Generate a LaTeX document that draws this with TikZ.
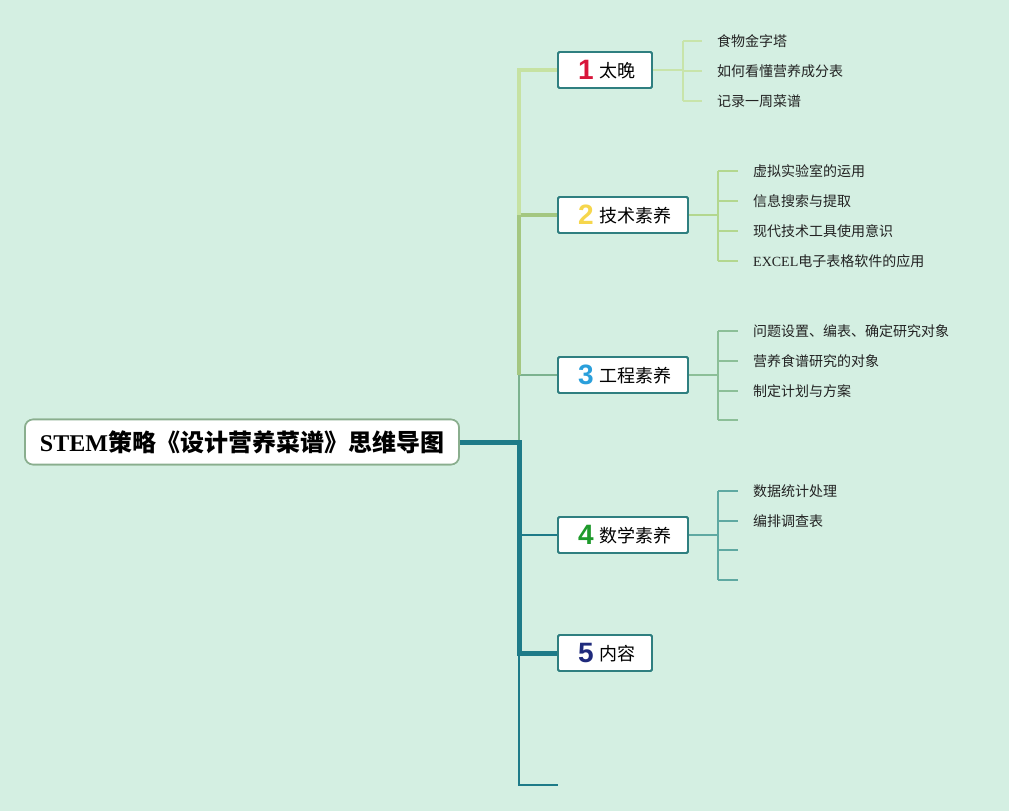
\documentclass[tikz,border=0pt]{standalone}
\usepackage{fontspec}
\setmainfont{Liberation Serif}
\newfontfamily\cjk{Noto Sans CJK SC}
\newfontfamily\digitfont{Liberation Sans}
\definecolor{bg}{HTML}{D4EFE2}
\definecolor{lg}{HTML}{C6E2A2}
\definecolor{mg}{HTML}{A4C781}
\definecolor{gg}{HTML}{7CB28F}
\definecolor{tl}{HTML}{1E7B88}
\definecolor{boxline}{HTML}{2F7F80}
\definecolor{rootline}{HTML}{8AAE8E}
\definecolor{leaf1}{HTML}{C8E4AA}
\definecolor{leaf2}{HTML}{B3D78F}
\definecolor{leaf3}{HTML}{8CBF98}
\definecolor{leaf4}{HTML}{5FA9A2}
\definecolor{n1}{HTML}{D8153A}
\definecolor{n2}{HTML}{F6D64C}
\definecolor{n3}{HTML}{2A9FDB}
\definecolor{n4}{HTML}{1E9A2B}
\definecolor{n5}{HTML}{1F2A7C}
\definecolor{txt}{HTML}{222222}
\newcommand{\numtag}[2]{\raisebox{-2.5pt}{\color{#1}\digitfont\bfseries\fontsize{28}{28}\selectfont #2}}
\begin{document}
\begin{tikzpicture}[x=1pt,y=-1pt,
  rootbox/.style={draw=rootline,line width=1.6pt,fill=white,rounded corners=8pt,minimum width=434pt,minimum height=45pt,inner sep=0pt},
  topic/.style={draw=boxline,line width=1.8pt,fill=white,rounded corners=1.5pt,minimum height=36pt,inner sep=0pt,font=\cjk\fontsize{18}{18}\selectfont},
  leaf/.style={anchor=west,inner sep=0pt,text=txt,font=\cjk\fontsize{14}{14}\selectfont}]
\useasboundingbox (0,0) rectangle (1009,811);
\fill[bg] (0,0) rectangle (1009,811);

% nodes
\node[rootbox] (root) at (242,442) {{\bfseries\fontsize{24}{24}\selectfont STEM}{\cjk\bfseries\fontsize{24}{24}\selectfont 策略《设计营养菜谱》思维导图}};
\node[topic,minimum width=94pt] (b1) at (605,70) {\hspace{4pt}\numtag{n1}{1}\hspace{6pt}太晚};
\node[topic,minimum width=130pt] (b2) at (623,215) {\hspace{4pt}\numtag{n2}{2}\hspace{6pt}技术素养};
\node[topic,minimum width=130pt] (b3) at (623,375) {\hspace{4pt}\numtag{n3}{3}\hspace{6pt}工程素养};
\node[topic,minimum width=130pt] (b4) at (623,535) {\hspace{4pt}\numtag{n4}{4}\hspace{6pt}数学素养};
\node[topic,minimum width=94pt] (b5) at (605,653) {\hspace{4pt}\numtag{n5}{5}\hspace{6pt}内容};

% trunk coordinates
\coordinate (j0) at (519,442);
\coordinate (j3) at (519,375);
\coordinate (j2) at (519,215);
\coordinate (j4) at (519,535);
\coordinate (j5) at (519,653);
\coordinate (tailend) at (558,785);

\draw[gg,line width=2pt,line join=miter] (j0) -- (j3) -- (b3.west);
\draw[mg,line width=4pt,line join=miter] (j3) |- (b2.west);
\draw[lg,line width=4pt,line join=miter] (j2) |- (b1.west);
\draw[tl,line width=2pt,line join=miter] (j5) |- (tailend);
\draw[tl,line width=2pt] (j4) -- (b4.west);
\draw[tl,line width=5pt,line join=miter] (root.east) -- (j0) |- (b5.west);

% redraw boxes on top of connectors
\node[topic,minimum width=94pt] at (b1) {\hspace{4pt}\numtag{n1}{1}\hspace{6pt}太晚};
\node[topic,minimum width=94pt] at (b5) {\hspace{4pt}\numtag{n5}{5}\hspace{6pt}内容};
\node[rootbox] at (root) {{\bfseries\fontsize{24}{24}\selectfont STEM}{\cjk\bfseries\fontsize{24}{24}\selectfont 策略《设计营养菜谱》思维导图}};

% leaves of topic 1
\node[leaf] (l11) at (717,41) {食物金字塔};
\node[leaf] (l12) at (717,71) {如何看懂营养成分表};
\node[leaf] (l13) at (717,101) {记录一周菜谱};
\coordinate (k1) at (683,70);
\begin{scope}[leaf1,line width=1.3pt]
\draw (b1.east) -- (k1);
\draw (k1 |- l11.west) -- (k1 |- l13.west);
\foreach \l in {l11,l12,l13} \draw (k1 |- \l.west) -- ([xshift=-15pt]\l.west);
\end{scope}

% leaves of topic 2
\node[leaf] (l21) at (753,171) {虚拟实验室的运用};
\node[leaf] (l22) at (753,201) {信息搜索与提取};
\node[leaf] (l23) at (753,231) {现代技术工具使用意识};
\node[leaf] (l24) at (753,261) {{\fontspec{Liberation Serif}EXCEL}电子表格软件的应用};
\coordinate (k2) at (718,215);
\begin{scope}[leaf2,line width=1.3pt]
\draw (b2.east) -- (k2);
\draw (k2 |- l21.west) -- (k2 |- l24.west);
\foreach \l in {l21,l22,l23,l24} \draw (k2 |- \l.west) -- ([xshift=-15pt]\l.west);
\end{scope}

% leaves of topic 3
\node[leaf] (l31) at (753,331) {问题设置、编表、确定研究对象};
\node[leaf] (l32) at (753,361) {营养食谱研究的对象};
\node[leaf] (l33) at (753,391) {制定计划与方案};
\coordinate (k3) at (718,375);
\coordinate (e34) at (738,420);
\begin{scope}[leaf3,line width=1.3pt]
\draw (b3.east) -- (k3);
\draw (k3 |- l31.west) -- (k3 |- e34);
\foreach \l in {l31,l32,l33} \draw (k3 |- \l.west) -- ([xshift=-15pt]\l.west);
\draw (k3 |- e34) -- (e34);
\end{scope}

% leaves of topic 4
\node[leaf] (l41) at (753,491) {数据统计处理};
\node[leaf] (l42) at (753,521) {编排调查表};
\coordinate (k4) at (718,535);
\coordinate (e43) at (738,550);
\coordinate (e44) at (738,580);
\begin{scope}[leaf4,line width=1.3pt]
\draw (b4.east) -- (k4);
\draw (k4 |- l41.west) -- (k4 |- e44);
\foreach \l in {l41,l42} \draw (k4 |- \l.west) -- ([xshift=-15pt]\l.west);
\draw (k4 |- e43) -- (e43);
\draw (k4 |- e44) -- (e44);
\end{scope}

% redraw topic boxes 2-4 above connectors
\node[topic,minimum width=130pt] at (b2) {\hspace{4pt}\numtag{n2}{2}\hspace{6pt}技术素养};
\node[topic,minimum width=130pt] at (b3) {\hspace{4pt}\numtag{n3}{3}\hspace{6pt}工程素养};
\node[topic,minimum width=130pt] at (b4) {\hspace{4pt}\numtag{n4}{4}\hspace{6pt}数学素养};
\end{tikzpicture}
\end{document}
